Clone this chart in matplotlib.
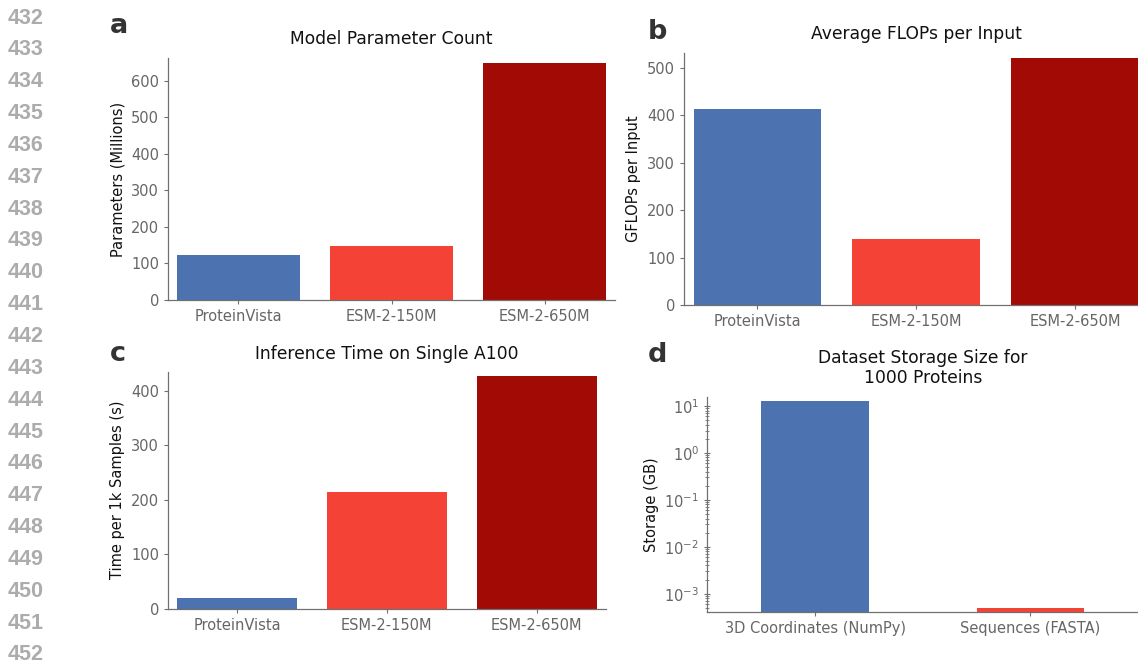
import numpy as np
import matplotlib
matplotlib.use("Agg")
import matplotlib.pyplot as plt
from matplotlib.ticker import LogLocator, NullFormatter

plt.rcParams["font.family"] = ["DejaVu Sans"]
plt.rcParams["font.sans-serif"] = ["DejaVu Sans"]
plt.rcParams["mathtext.fontset"] = "dejavusans"

# ---------------- data ----------------
models = ["ProteinVista", "ESM-2-150M", "ESM-2-650M"]
params_millions = [122, 148, 650]
gflops_per_input = [414, 140, 520]
time_per_1k_s = [20, 214, 426]

storage_labels = ["3D Coordinates (NumPy)", "Sequences (FASTA)"]
storage_gb = [12.8, 0.0005]

palette = ["#4c72b0", "#f44336", "#a20a05"]
line_numbers = list(range(432, 453))

# ---------------- figure ----------------
W, H = 1138, 662
fig = plt.figure(figsize=(W / 100, H / 100), dpi=100)

TICK_C = "#666666"
SPINE_C = "#707070"
FAM = ["DejaVu Sans"]


def add_ax(left, right, top, bottom):
    return fig.add_axes([left / W, 1 - bottom / H, (right - left) / W, (bottom - top) / H])


def style(ax):
    for s in ("top", "right"):
        ax.spines[s].set_visible(False)
    for s in ("left", "bottom"):
        ax.spines[s].set_color(SPINE_C)
        ax.spines[s].set_linewidth(0.9)
    ax.tick_params(axis="both", colors=SPINE_C, labelcolor=TICK_C, labelsize=10.5,
                   length=3, width=0.8, direction="out")
    for lab in ax.get_xticklabels() + ax.get_yticklabels():
        lab.set_family(FAM)


def bar_panel(ax, values, ylabel, title, ymax, pad):
    x = np.arange(len(models))
    ax.bar(x, values, width=0.8, color=palette)
    ax.set_xticks(x)
    ax.set_xticklabels(models)
    ax.set_xlim(-0.46, len(models) - 1 + 0.46)
    ax.set_ylim(0, ymax)
    ax.set_ylabel(ylabel, fontsize=10.5, color="#111111", family=FAM)
    ax.set_title(title, fontsize=12.3, color="#111111", pad=pad, family=FAM)


ax_a = add_ax(168, 615, 58.3, 300)
bar_panel(ax_a, params_millions, "Parameters (Millions)", "Model Parameter Count", 662, 10.3)
ax_a.set_yticks([0, 100, 200, 300, 400, 500, 600])
style(ax_a)

ax_b = add_ax(684, 1148, 53.3, 305)
bar_panel(ax_b, gflops_per_input, "GFLOPs per Input", "Average FLOPs per Input", 530.5, 10.3)
ax_b.set_yticks([0, 100, 200, 300, 400, 500])
style(ax_b)

ax_c = add_ax(168, 605.7, 371.7, 608.7)
bar_panel(ax_c, time_per_1k_s, "Time per 1k Samples (s)", "Inference Time on Single A100", 434.5, 9.2)
ax_c.set_yticks([0, 100, 200, 300, 400])
style(ax_c)

ax_d = add_ax(707.4, 1138, 396.7, 612)
xd = np.arange(len(storage_labels))
ax_d.bar(xd, storage_gb, width=0.5, color=palette[:2], log=True)
ax_d.set_yscale("log")
ax_d.set_xticks(xd)
ax_d.set_xticklabels(storage_labels)
ax_d.set_xlim(-0.5, len(storage_labels) - 0.5)
ax_d.set_ylim(4.07e-4, 15.8)
ax_d.yaxis.set_major_locator(LogLocator(base=10, numticks=10))
ax_d.yaxis.set_minor_locator(LogLocator(base=10, subs=np.arange(2, 10), numticks=50))
ax_d.yaxis.set_minor_formatter(NullFormatter())
ax_d.set_ylabel("Storage (GB)", fontsize=10.5, color="#111111", family=FAM)
ax_d.set_title("Dataset Storage Size for\n1000 Proteins", fontsize=12.3, color="#111111",
               pad=9.6, family=FAM)
style(ax_d)
ax_d.tick_params(axis="y", which="major", direction="inout", length=5)
ax_d.tick_params(axis="y", which="minor", direction="inout", length=3.2, width=0.6, colors=SPINE_C)

# panel letters
for letter, (px, py) in {"a": (110, 33), "b": (648, 39), "c": (110, 361), "d": (648, 361.7)}.items():
    fig.text(px / W, 1 - py / H, letter, fontsize=19.5, fontweight="bold", color="#333333",
             ha="left", va="baseline", family=FAM)

# manuscript line numbers
for i, n in enumerate(line_numbers):
    fig.text(25.7 / W, 1 - (18 + i * 31.85) / H, str(n), fontsize=15.5, fontweight="bold",
             color="#acacac", ha="center", va="center", family=["Liberation Sans", "DejaVu Sans"])

fig.savefig("out.png", dpi=100)
